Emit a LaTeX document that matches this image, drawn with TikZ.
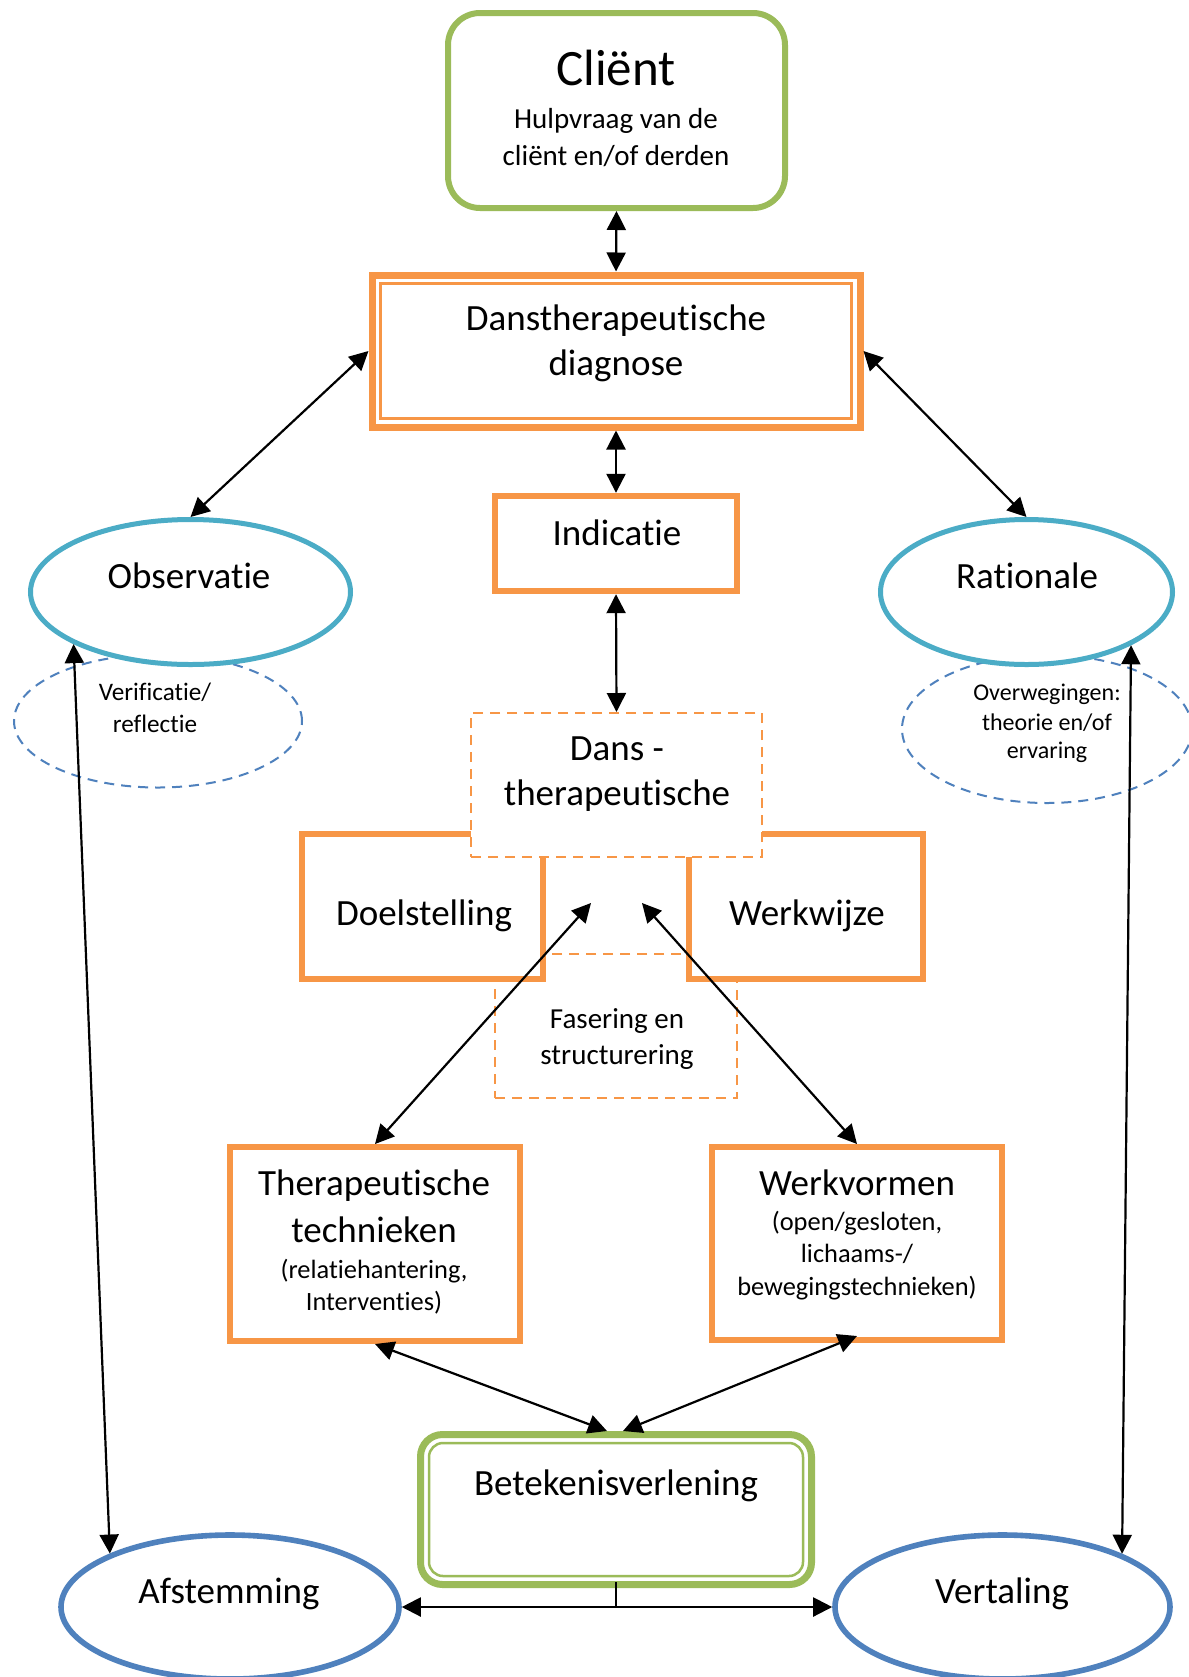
\documentclass[tikz,border=0pt]{standalone}
\usepackage{fontspec}
\setmainfont{Carlito}[Ligatures=NoCommon, Contextuals=NoAlternate]
\usetikzlibrary{arrows.meta,shapes.geometric}
\definecolor{cgreen}{HTML}{9BBB59}
\definecolor{corange}{HTML}{F79646}
\definecolor{cteal}{HTML}{4BACC6}
\definecolor{cblue}{HTML}{4F81BD}
\begin{document}
\begin{tikzpicture}[x=0.5pt,y=-0.5pt,
  txt/.style={inner sep=0pt, anchor=base},
  huge/.style={txt, font=\fontsize{25.5pt}{30pt}\selectfont},
  big/.style={txt, font=\fontsize{18.5pt}{22pt}\selectfont},
  med/.style={txt, font=\fontsize{14.5pt}{17pt}\selectfont},
  sml/.style={txt, font=\fontsize{13.2pt}{16pt}\selectfont},
  tiny/.style={txt, font=\fontsize{12pt}{14pt}\selectfont},
  obox/.style={rectangle, draw=corange, fill=white, line width=3pt, outer sep=1.5pt, inner sep=0pt},
  dbox/.style={rectangle, draw=corange, fill=white, line width=1pt, dash pattern=on 5pt off 3.5pt, outer sep=0.5pt, inner sep=0pt},
  gbox/.style={rectangle, draw=cgreen, fill=white, inner sep=0pt},
  tealell/.style={ellipse, draw=cteal, fill=white, line width=2.5pt, outer sep=1.25pt, inner sep=0pt},
  blueell/.style={ellipse, draw=cblue, fill=white, line width=2.8pt, outer sep=1.4pt, inner sep=0pt},
  dashell/.style={ellipse, draw=cblue, line width=1pt, dash pattern=on 5pt off 3.5pt, inner sep=0pt},
  arr/.style={draw=black, line width=1.1pt, {Triangle[length=9.5pt,width=9.5pt]}-{Triangle[length=9.5pt,width=9.5pt]}},
]
\useasboundingbox (0,0) rectangle (1189,1677);
\fill[white] (0,0) rectangle (1189,1677);

% dashed ellipses (behind)
\node[dashell, minimum width=144pt, minimum height=66.5pt] (verif) at (158,721) {};
\node[dashell, minimum width=145pt, minimum height=74pt] (overw) at (1047,729) {};
% teal ellipses
\node[tealell, minimum width=160pt, minimum height=72.5pt] (obs) at (190.5,592) {};
\node[tealell, minimum width=146pt, minimum height=72.5pt] (rat) at (1026.5,592) {};

% client
\node[gbox, rounded corners=16pt, line width=3pt, outer sep=1.5pt, minimum width=168.5pt, minimum height=97.5pt] (client) at (616.5,110.5) {};
% diagnose
\node[obox, line width=3.5pt, outer sep=1.75pt, minimum width=244pt, minimum height=76pt] (diag) at (616,351) {};
\draw[corange, line width=1.25pt] ([shift={(12,12)}]diag.north west) rectangle ([shift={(-12,-12)}]diag.south east);
% indicatie
\node[obox, line width=3.2pt, outer sep=1.6pt, minimum width=121pt, minimum height=47.5pt] (ind) at (616,543.5) {};
% fasering (behind)
\node[dbox, minimum width=121pt, minimum height=72pt] (fas) at (616,1026) {};
% doelstelling, werkwijze
\node[obox, minimum width=120.5pt, minimum height=72.5pt] (doel) at (422.5,906.5) {};
\node[obox, minimum width=117pt, minimum height=72.5pt] (werkw) at (806,906.5) {};
% dans-therapeutische (on top)
\node[dbox, minimum width=145.5pt, minimum height=72pt] (dans) at (616.5,785) {};
% therapeutische technieken, werkvormen
\node[obox, minimum width=145pt, minimum height=97pt] (ther) at (375,1244) {};
\node[obox, minimum width=145pt, minimum height=96.5pt] (werkv) at (857,1243.5) {};
% betekenisverlening
\node[gbox, rounded corners=11pt, line width=3.5pt, outer sep=1.75pt, minimum width=195.5pt, minimum height=75pt] (bet) at (616,1509.5) {};
\draw[cgreen, line width=1.25pt, rounded corners=7pt] ([shift={(12,12)}]bet.north west) rectangle ([shift={(-12,-12)}]bet.south east);
% afstemming, vertaling
\node[blueell, minimum width=169pt, minimum height=72pt] (afst) at (230,1607) {};
\node[blueell, minimum width=167.5pt, minimum height=72pt] (vert) at (1002.5,1607) {};

% texts
\node[huge] (t-cl1) at (616,85) {Cliënt};
\node[med] (t-cl2) at (616,128) {Hulpvraag van de};
\node[med] (t-cl3) at (616,165) {cliënt en/of derden};
\node[big] (t-di1) at (616,330) {Danstherapeutische};
\node[big] (t-di2) at (616,375) {diagnose};
\node[big] (t-ind) at (617,545) {Indicatie};
\node[big] (t-obs) at (189,588) {Observatie};
\node[big] (t-rat) at (1027,588) {Rationale};
\node[tiny, font=\fontsize{12.6pt}{14pt}\selectfont] (t-ve1) at (155,700) {Verificatie/};
\node[tiny, font=\fontsize{12.6pt}{14pt}\selectfont] (t-ve2) at (155,732) {reflectie};
\node[tiny] (t-ov1) at (1047,700) {Overwegingen:};
\node[tiny] (t-ov2) at (1047,730) {theorie en/of};
\node[tiny] (t-ov3) at (1047,758) {ervaring};
\node[big] (t-da1) at (617,760) {Dans -};
\node[big] (t-da2) at (617,805) {therapeutische};
\node[big] (t-doel) at (424,925) {Doelstelling};
\node[big] (t-werkw) at (807,925) {Werkwijze};
\node[med] (t-fa1) at (617,1028) {Fasering en};
\node[med] (t-fa2) at (617,1064) {structurering};
\node[big] (t-th1) at (374,1195) {Therapeutische};
\node[big] (t-th2) at (374,1242) {technieken};
\node[sml] (t-th3) at (374,1278) {(relatiehantering,};
\node[sml] (t-th4) at (374,1310) {Interventies)};
\node[big] (t-wv1) at (857,1195) {Werkvormen};
\node[sml] (t-wv2) at (857,1230) {(open/gesloten,};
\node[sml] (t-wv3) at (857,1262) {lichaams-/};
\node[sml] (t-wv4) at (857,1295) {bewegingstechnieken)};
\node[big] (t-bet) at (616,1495) {Betekenisverlening};
\node[big] (t-afst) at (229,1603) {Afstemming};
\node[big] (t-vert) at (1002,1603) {Vertaling};

% connectors
\draw[arr] (client.south) -- (diag.north);
\draw[arr] (diag.south) -- (ind.north);
\draw[arr] (diag.west) -- (obs.north);
\draw[arr] (diag.east) -- (rat.north);
\draw[arr] (ind.south) -- (dans.north);
\coordinate (pL) at (591,903);
\coordinate (pR) at (642,903);
\draw[arr] (ther.north) -- (pL);
\draw[arr] (werkv.north) -- (pR);
\draw[arr] (ther.south) -- ([xshift=-4.5pt]bet.north);
\draw[arr] ([yshift=3.5pt]werkv.south) -- ([xshift=3.5pt]bet.north);
\draw[arr] (obs.204) -- (afst.156);
\draw[arr] (rat.-27.35) -- (vert.24.3);
\coordinate (bj) at (bet.south |- afst.east);
\draw[line width=1.1pt] ([yshift=3pt]bet.south) -- (bj);
\draw[arr] (afst.east) -- (vert.west);
\end{tikzpicture}
\end{document}
